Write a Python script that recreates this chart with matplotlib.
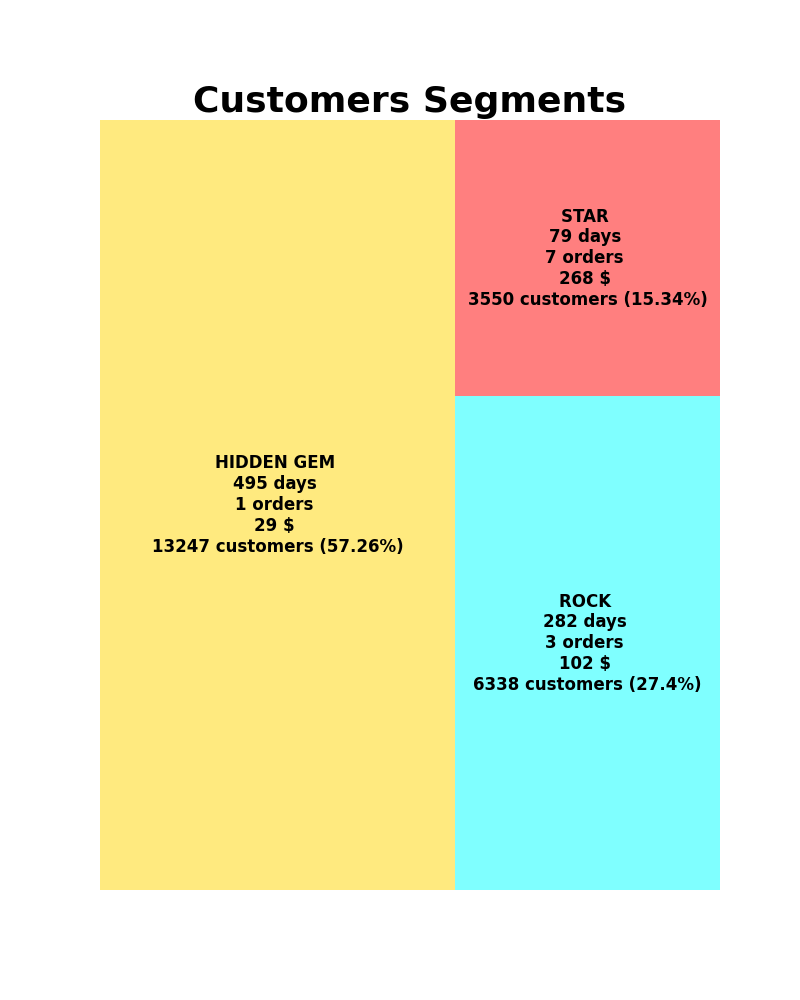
import matplotlib
matplotlib.use("Agg")
import matplotlib.pyplot as plt

# Segment data
segments = ["HIDDEN GEM", "ROCK", "STAR"]
recency_days = [495, 282, 79]
frequency_orders = [1, 3, 7]
monetary = [29, 102, 268]
customers = [13247, 6338, 3550]
percent = ["57.26", "27.4", "15.34"]
colors = ["gold", "cyan", "red"]


def worst(row, w):
    s = sum(row)
    return max(max(w * w * r / (s * s), (s * s) / (w * w * r)) for r in row)


def squarify(values, x, y, dx, dy):
    # squarified treemap layout, values already scaled to area dx*dy
    rects = []
    values = list(values)
    while values:
        w = min(dx, dy)
        row = [values.pop(0)]
        while values and worst(row + [values[0]], w) <= worst(row, w):
            row.append(values.pop(0))
        s = sum(row)
        if dx >= dy:
            width = s / dy
            yy = y
            for r in row:
                h = r / width
                rects.append((x, yy, width, h))
                yy += h
            x += width
            dx -= width
        else:
            height = s / dx
            xx = x
            for r in row:
                wd = r / height
                rects.append((xx, y, wd, height))
                xx += wd
            y += height
            dy -= height
    return rects


total = sum(customers)
scaled = [c * 100 * 100 / total for c in customers]
rects = squarify(scaled, 0, 0, 100, 100)

fig, ax = plt.subplots(figsize=(8, 10), dpi=100)
for i, (rx, ry, rw, rh) in enumerate(rects):
    ax.add_patch(plt.Rectangle((rx, ry), rw, rh, color=colors[i], alpha=0.5, lw=0))
    label = (f"{segments[i]} \n{recency_days[i]} days \n{frequency_orders[i]} orders \n"
             f"{monetary[i]} $ \n{customers[i]} customers ({percent[i]}%)")
    ax.text(rx + rw / 2, ry + rh / 2, label, ha="center", va="center",
            fontsize=12, fontweight="bold")
ax.set_xlim(0, 100)
ax.set_ylim(0, 100)
ax.axis("off")
plt.title("Customers Segments", fontsize=26, fontweight="bold")
plt.savefig("out.png")
